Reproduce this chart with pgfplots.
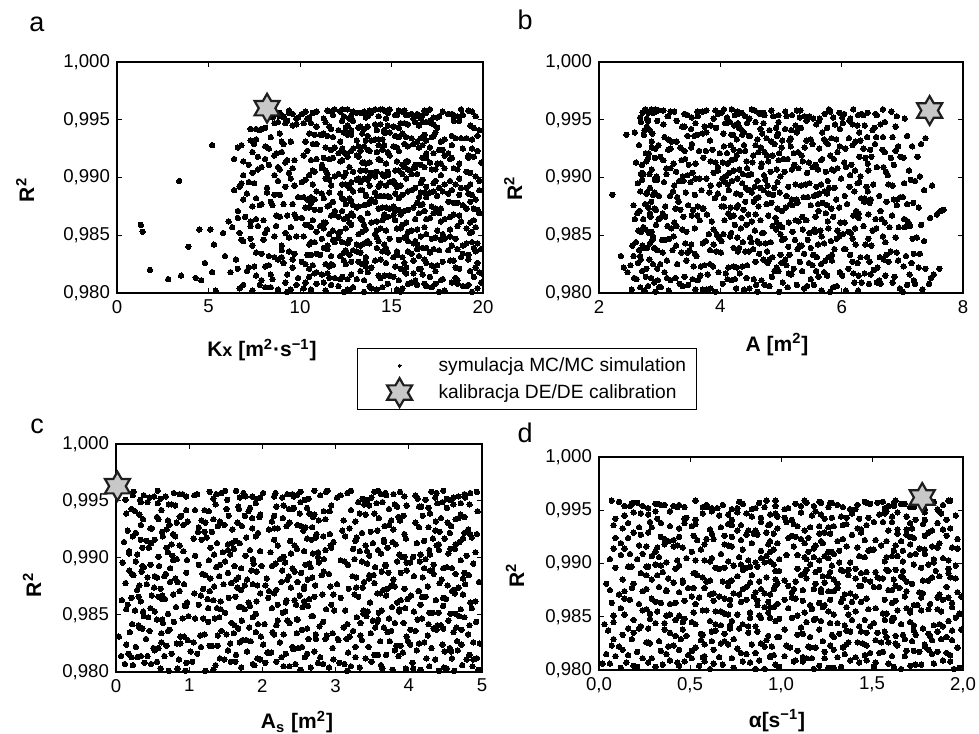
\documentclass[border=0pt]{standalone}
\usepackage{fontspec}
\setmainfont{Liberation Sans}
\usepackage{pgfplots}
\usepackage{pgfplotstable}
\pgfplotsset{compat=1.18}

\definecolor{starfill}{RGB}{200,200,200}
\definecolor{staredge}{RGB}{30,30,30}

% six-pointed star used for the DE calibration point
\pgfdeclareplotmark{hexstar}{%
  \pgfpathmoveto{\pgfpointpolar{90}{\pgfplotmarksize}}%
  \pgfpathlineto{\pgfpointpolar{120}{0.577\pgfplotmarksize}}%
  \pgfpathlineto{\pgfpointpolar{150}{\pgfplotmarksize}}%
  \pgfpathlineto{\pgfpointpolar{180}{0.577\pgfplotmarksize}}%
  \pgfpathlineto{\pgfpointpolar{210}{\pgfplotmarksize}}%
  \pgfpathlineto{\pgfpointpolar{240}{0.577\pgfplotmarksize}}%
  \pgfpathlineto{\pgfpointpolar{270}{\pgfplotmarksize}}%
  \pgfpathlineto{\pgfpointpolar{300}{0.577\pgfplotmarksize}}%
  \pgfpathlineto{\pgfpointpolar{330}{\pgfplotmarksize}}%
  \pgfpathlineto{\pgfpointpolar{0}{0.577\pgfplotmarksize}}%
  \pgfpathlineto{\pgfpointpolar{30}{\pgfplotmarksize}}%
  \pgfpathlineto{\pgfpointpolar{60}{0.577\pgfplotmarksize}}%
  \pgfpathclose
  \pgfusepathqfillstroke
}

\pgfplotsset{
  panel/.style={
    scale only axis, anchor=south west,
    ymin=0.98, ymax=1.0, ytick={0.980,0.985,0.990,0.995,1.000},
    scaled ticks=false, tick align=inside, major tick length=2.5pt,
    axis line style={line width=0.6pt},
    every tick/.append style={line width=0.5pt, black},
    tick label style={font=\fontsize{9.3}{11}\selectfont},
    /pgf/number format/assume math mode=true,
    yticklabel style={/pgf/number format/.cd, fixed, fixed zerofill, precision=3, use comma},
    label style={font=\bfseries\fontsize{10.5}{12}\selectfont},
    xlabel style={anchor=base},
    ylabel style={anchor=center},
    ylabel={R\textsuperscript{2}},
  },
  dots/.style={only marks, mark=*, mark size=1.35pt, black, mark options={line width=0pt}},
  calib/.style={only marks, mark=hexstar, mark size=7.2pt,
    mark options={fill=starfill, draw=staredge, line width=1.1pt}},
  dotimage/.style={legend image code/.code={%
    \path[draw=none, fill=none] (0pt,-6.75pt) rectangle (35.5pt,6.75pt);
    \draw[##1, mark size=0.75pt] plot coordinates {(16pt,0pt)};}},
  starimage/.style={legend image code/.code={%
    \path[draw=none, fill=none] (0pt,-6.75pt) rectangle (35.5pt,6.75pt);
    \begin{pgfinterruptboundingbox}\draw[##1] plot coordinates {(16pt,0pt)};\end{pgfinterruptboundingbox}}},
}

% Monte Carlo runs: K_x, A, A_s, alpha, R^2
\pgfplotstableread{
k a s al r
14.2 3.71 0.84 1.62 0.9803
9.8 5.26 3.12 0.27 0.9807
17.6 2.93 4.41 0.91 0.9801
11.3 6.84 1.57 1.38 0.9809
6.7 4.48 2.66 0.55 0.9804
19.1 5.92 0.23 1.84 0.9806
12.7 3.15 3.78 0.12 0.9802
15.9 7.21 2.04 1.07 0.9808
8.1 2.68 4.87 0.68 0.9805
13.5 4.97 1.22 1.95 0.9801
18.3 6.33 3.49 0.39 0.9809
10.6 3.59 0.61 1.51 0.9803
16.4 5.54 2.83 0.83 0.9807
7.4 6.07 4.16 1.26 0.9802
12.1 2.81 1.89 0.06 0.9806
19.7 4.26 3.33 1.71 0.9804
14.8 7.44 0.39 0.47 0.9808
9.3 3.92 4.62 1.18 0.9801
17.2 5.11 2.37 0.97 0.9805
9.2 6.58 1.04 1.89 0.9809
15.3 2.54 3.96 0.31 0.9803
7.8 4.73 0.12 1.43 0.9807
5.4 5.67 2.52 0.74 0.9802
18.9 3.38 4.73 1.59 0.9806
10.2 6.96 1.71 0.19 0.9804
16.8 4.04 3.05 1.12 0.9808
12.4 5.81 0.95 0.61 0.9801
14.5 3.02 4.28 1.77 0.9805
19.9 6.21 2.19 0.88 0.9809
8.8 4.39 3.64 1.33 0.9803
11.7 7.08 0.48 0.43 0.9807
17.9 2.75 4.95 1.98 0.9802
13.8 5.43 1.36 0.02 0.9806
15.6 3.84 2.91 1.21 0.9804
10.9 6.45 4.05 0.79 0.9808
19.4 4.61 0.72 1.66 0.9801
12.9 2.99 3.21 0.35 0.9805
16.1 5.03 1.63 1.47 0.9809
9.5 7.33 4.52 0.99 0.9803
6.9 3.47 2.45 0.15 0.9807
2.8 4.12 1.93 0.57 0.9812
3.5 5.76 3.58 1.35 0.9815
4.3 3.26 0.29 1.02 0.9813
4.6 6.62 4.36 0.24 0.9811
5.2 2.47 2.71 1.73 0.9818
15.1 4.85 0.66 0.49 0.9814
11.5 6.19 3.92 1.86 0.9817
18.6 3.63 1.48 0.73 0.9811
13.3 5.35 4.67 1.29 0.9819
9.9 2.86 2.26 0.09 0.9813
16.7 7.12 0.17 1.54 0.9816
12.2 4.55 3.41 0.94 0.9812
19.8 3.08 1.79 1.69 0.9818
14.6 6.72 4.83 0.37 0.9815
7.9 4.19 2.97 1.14 0.9811
17.4 5.58 0.53 0.63 0.9819
10.5 3.41 3.86 1.93 0.9814
15.8 6.38 2.12 0.21 0.9817
13.1 2.62 4.24 1.41 0.9812
8.4 5.17 1.11 0.86 0.9816
11.9 7.47 2.58 1.61 0.9813
6.2 3.97 4.49 0.51 0.9818
16.3 4.68 0.86 1.24 0.9811
14.3 6.01 3.69 0.04 0.9815
19.3 2.71 1.53 1.81 0.9819
12.6 5.49 4.93 0.66 0.9812
9.3 3.79 2.32 1.49 0.9816
17.1 6.87 0.34 0.96 0.9814
10.8 4.32 3.17 1.76 0.9817
15.4 3.18 1.97 0.29 0.9811
13.7 5.97 4.58 1.09 0.9818
18.5 2.58 2.79 0.58 0.9813
11.2 7.52 0.76 1.91 0.9816
7.1 4.89 4.11 0.44 0.9819
8.5 3.54 1.42 1.31 0.9812
14.9 6.28 3.53 0.81 0.9815
19.9 4.09 2.07 1.56 0.9817
12.3 5.62 0.07 0.16 0.9814
17.7 2.97 4.79 1.17 0.9811
1.8 6.53 2.42 0.76 0.9820
13.6 3.88 1.28 1.64 0.9823
10.1 5.31 3.74 0.33 0.9827
16.6 2.78 0.58 1.05 0.9821
19.2 6.69 2.86 1.88 0.9829
11.8 4.44 4.46 0.71 0.9824
14.7 7.15 1.69 1.37 0.9826
7.2 2.41 3.27 0.11 0.9822
18.2 5.84 0.98 1.52 0.9828
12.5 2.89 4.14 0.89 0.9825
15.5 6.11 2.49 1.97 0.9821
9.6 4.71 0.41 0.45 0.9829
17.3 3.56 3.89 1.27 0.9823
13.2 6.77 1.84 0.62 0.9827
10.7 5.09 4.72 1.79 0.9824
16.9 2.64 2.24 0.26 0.9826
19.6 4.27 0.27 1.15 0.9822
14.1 5.73 3.36 0.92 0.9828
11.4 3.01 1.56 1.45 0.9825
18.7 7.38 4.31 0.53 0.9821
6.5 4.81 2.63 1.68 0.9829
15.2 3.68 0.69 0.07 0.9823
12.8 6.46 3.99 1.23 0.9827
17.5 2.52 2.01 0.84 0.9824
9.1 5.46 4.88 1.59 0.9826
13.9 4.13 1.16 0.38 0.9822
16.2 6.93 3.04 1.94 0.9828
10.3 3.29 0.83 0.67 0.9825
6.6 5.21 4.56 1.34 0.9821
14.4 2.83 2.73 0.18 0.9829
11.6 7.02 1.31 1.03 0.9823
17.8 4.58 3.61 1.72 0.9827
8.3 3.74 0.14 0.58 0.9824
15.7 6.26 4.21 1.42 0.9826
9.6 4.93 2.41 0.95 0.9822
18.4 3.12 1.73 1.83 0.9828
13.4 5.66 4.97 0.28 0.9825
16.5 7.61 0.51 1.19 0.9821
8.8 2.69 3.15 0.74 0.9829
4.8 5.01 1.06 1.55 0.9826
7.5 4.36 3.83 0.41 0.9823
11.1 6.14 2.16 1.28 0.9833
9.0 3.49 4.38 0.64 0.9837
13.6 5.78 0.93 1.91 0.9831
19.5 2.91 3.54 0.22 0.9839
9.7 4.64 1.61 1.12 0.9834
15.9 6.81 4.09 0.87 0.9836
12.2 2.36 2.88 1.63 0.9832
16.4 5.27 0.36 0.36 0.9838
7.6 4.01 3.71 1.47 0.9835
18.8 6.42 1.98 0.99 0.9831
14.2 2.74 4.65 1.78 0.9839
10.4 5.53 2.29 0.13 0.9833
17.6 3.83 0.73 1.36 0.9837
7.9 7.19 3.48 0.69 0.9834
15.3 4.47 1.44 1.86 0.9836
11.7 2.57 4.26 0.48 0.9832
19.9 5.88 2.61 1.21 0.9838
14.8 3.36 0.19 0.82 0.9835
8.6 6.63 3.97 1.58 0.9831
16.7 4.22 1.82 0.27 0.9839
12.7 5.14 4.81 1.09 0.9833
18.1 2.96 2.54 1.73 0.9837
10.9 7.29 0.62 0.56 0.9834
14.5 4.77 3.24 1.44 0.9836
5.9 3.61 1.39 0.93 0.9832
17.3 6.04 4.47 1.99 0.9838
13.3 3.05 2.14 0.39 0.9835
15.6 5.59 0.88 1.16 0.9831
11.3 4.31 3.66 0.77 0.9839
19.2 6.74 1.21 1.67 0.9833
12.9 2.66 4.02 0.05 0.9837
16.1 5.38 2.96 1.32 0.9834
9.4 3.93 0.46 0.62 0.9836
8.3 7.06 3.34 1.82 0.9832
18.6 4.54 1.67 0.46 0.9838
3.9 5.12 2.78 1.11 0.9840
12.4 3.46 4.61 1.53 0.9835
15.1 6.31 0.04 0.98 0.9831
16.9 2.79 3.11 0.16 0.9839
10.6 4.99 1.51 1.74 0.9833
13.8 5.71 3.93 0.53 0.9843
17.2 3.16 1.19 1.39 0.9847
7.4 6.49 4.39 0.86 0.9841
15.8 4.16 2.69 1.96 0.9849
19.4 2.61 0.79 0.31 0.9844
8.0 5.44 3.58 1.22 0.9846
14.6 3.89 1.94 0.72 0.9842
12.1 7.24 4.76 1.61 0.9848
16.3 4.61 2.34 0.08 0.9845
18.3 3.27 0.31 1.49 0.9841
10.2 5.96 3.42 0.94 0.9849
13.5 2.84 1.58 1.87 0.9843
17.9 6.18 4.18 0.42 0.9847
11.9 4.37 2.83 1.27 0.9844
15.4 5.23 0.56 0.61 0.9846
5.3 3.52 3.16 1.35 0.9842
9.4 6.89 1.87 0.99 0.9848
14.3 4.02 4.54 1.71 0.9845
9.0 2.72 2.19 0.23 0.9841
16.6 5.67 0.99 1.06 0.9849
12.6 3.71 3.81 0.79 0.9843
18.5 7.17 1.35 1.57 0.9847
10.8 4.83 4.92 0.36 0.9844
6.8 3.09 2.47 1.92 0.9846
13.1 6.39 0.22 0.67 0.9842
17.4 4.28 3.29 1.19 0.9848
6.9 5.82 1.72 0.51 0.9845
11.5 2.55 4.44 1.43 0.9841
8.6 6.68 2.67 0.89 0.9849
19.7 3.42 0.64 1.66 0.9843
14.9 5.06 3.73 0.19 0.9847
12.3 4.51 1.26 1.31 0.9844
17.7 2.88 4.12 0.73 0.9846
10.5 6.23 2.03 1.84 0.9842
15.7 3.97 0.44 0.47 0.9848
13.7 7.36 3.51 1.14 0.9845
18.9 5.31 1.62 0.82 0.9841
9.8 3.23 4.69 1.62 0.9849
16.2 4.74 2.37 0.03 0.9843
11.2 5.92 0.91 1.46 0.9847
1.3 4.43 2.94 0.96 0.9859
1.4 6.11 0.37 1.58 0.9853
4.5 3.37 3.87 0.32 0.9855
5.1 5.55 1.43 1.26 0.9855
5.8 2.82 4.33 0.71 0.9852
6.3 6.94 2.55 1.81 0.9857
14.1 4.05 0.71 0.44 0.9851
17.5 5.65 3.63 1.13 0.9854
7.7 3.13 1.83 1.69 0.9858
15.3 6.57 4.86 0.57 0.9856
19.3 4.69 2.28 1.37 0.9852
10.3 2.94 0.16 0.91 0.9859
13.4 5.19 3.44 1.98 0.9853
16.8 7.04 1.68 0.26 0.9857
11.6 3.81 4.57 1.09 0.9851
18.2 4.92 2.87 0.64 0.9855
8.7 6.36 0.94 1.52 0.9858
14.7 2.65 3.13 0.83 0.9854
12.5 5.78 1.38 1.77 0.9856
9.2 4.18 4.28 0.14 0.9852
15.6 7.31 2.21 1.23 0.9859
10.9 3.44 0.53 0.69 0.9853
19.6 5.02 3.77 1.48 0.9857
13.2 6.02 1.91 0.37 0.9851
16.4 2.77 4.71 1.88 0.9855
7.3 4.86 2.62 1.04 0.9858
11.8 6.51 0.26 0.52 0.9854
14.4 3.58 3.95 1.64 0.9856
6.7 5.47 1.49 0.76 0.9852
12.8 4.24 4.16 1.94 0.9859
15.9 2.69 2.31 0.28 0.9853
9.5 6.79 0.82 1.17 0.9857
17.8 3.94 3.38 0.88 0.9851
13.6 5.36 1.76 1.41 0.9855
11.1 7.13 4.47 0.12 0.9858
16.1 4.57 2.98 1.71 0.9854
19.1 3.19 0.47 0.59 0.9856
8.1 6.15 3.59 1.29 0.9852
10.4 4.97 1.13 0.94 0.9859
12.2 2.87 4.07 1.56 0.9853
15.2 5.42 2.44 0.34 0.9863
18.7 3.53 0.63 1.08 0.9867
12.7 6.71 3.84 1.75 0.9861
16.5 4.13 1.97 0.66 0.9869
7.6 2.59 4.51 1.33 0.9864
14.8 5.86 2.71 0.17 0.9866
6.1 4.52 0.34 0.98 0.9862
9.7 7.57 3.26 1.92 0.9868
17.1 3.01 1.54 0.47 0.9865
11.4 5.13 4.84 1.24 0.9861
19.8 6.28 2.16 0.85 0.9869
8.0 3.66 0.08 1.61 0.9863
12.9 4.79 3.69 0.29 0.9867
16.9 6.56 1.25 1.39 0.9864
8.9 2.85 4.23 0.81 0.9866
14.2 5.29 2.57 1.82 0.9862
18.4 4.46 0.78 0.55 0.9868
6.6 7.46 3.07 1.12 0.9865
13.9 3.24 1.81 0.72 0.9861
17.6 5.74 4.63 1.68 0.9869
10.7 4.07 2.33 0.07 0.9863
8.7 6.83 0.49 1.47 0.9867
12.4 2.73 3.98 0.93 0.9864
7.0 5.35 1.63 1.27 0.9866
7.3 3.86 4.91 0.39 0.9862
15.5 6.44 2.82 1.86 0.9868
13.3 4.35 0.21 0.63 0.9865
11.3 5.98 3.47 1.16 0.9861
17.3 3.05 1.07 1.99 0.9869
14.5 4.66 4.37 0.42 0.9863
9.3 6.19 2.51 1.34 0.9867
16.3 2.98 0.67 0.78 0.9864
12.1 5.57 3.31 1.57 0.9866
18.8 7.09 1.92 0.22 0.9862
14.6 3.78 4.74 1.06 0.9868
10.1 4.91 2.08 0.87 0.9865
15.8 6.05 0.97 1.73 0.9861
13.7 2.63 3.57 0.51 0.9869
19.5 5.24 1.33 1.21 0.9863
11.7 4.22 4.03 0.69 0.9867
17.9 7.03 2.64 1.44 0.9864
12.6 3.39 0.58 1.89 0.9866
14.3 5.83 3.18 0.44 0.9873
16.7 2.76 1.47 1.31 0.9877
11.9 6.64 4.59 0.77 0.9871
18.1 4.41 2.26 1.63 0.9879
13.1 5.08 0.52 0.24 0.9874
7.8 3.47 3.76 1.18 0.9876
15.4 7.68 1.71 0.91 0.9872
10.6 4.84 4.42 1.54 0.9878
17.2 3.09 2.93 0.06 0.9875
12.3 6.24 0.87 1.35 0.9871
19.3 4.55 3.39 0.71 0.9879
14.9 2.91 1.19 1.97 0.9873
9.6 5.61 4.77 0.49 0.9877
16.2 4.17 2.39 1.26 0.9874
13.5 6.91 0.32 0.96 0.9876
11.1 3.55 3.65 1.78 0.9872
18.6 5.27 1.58 0.33 0.9878
15.1 4.63 4.26 1.12 0.9875
6.6 2.67 2.09 0.61 0.9871
12.8 6.37 0.74 1.43 0.9879
17.4 3.72 3.94 0.86 0.9873
9.1 5.15 1.87 1.65 0.9877
10.3 7.27 4.68 0.14 0.9874
16.6 4.29 2.72 1.07 0.9876
19.7 2.94 0.29 0.74 0.9872
13.8 5.69 3.53 1.51 0.9878
11.5 4.02 1.34 0.37 0.9875
15.7 7.63 4.14 1.87 0.9871
8.4 3.31 2.48 0.97 0.9879
17.7 4.94 0.61 1.22 0.9873
12.5 6.09 3.02 0.58 0.9877
14.7 2.81 1.66 1.69 0.9874
18.9 5.49 4.53 0.26 0.9876
10.8 4.38 2.19 1.38 0.9872
16.4 7.18 0.13 0.81 0.9878
13.2 3.63 3.81 1.59 0.9875
15.2 5.02 1.28 0.11 0.9871
11.8 6.74 4.96 1.04 0.9879
19.1 3.26 2.57 1.76 0.9873
7.9 4.76 0.93 0.52 0.9877
14.5 5.96 3.37 1.29 0.9874
8.5 2.57 1.76 0.89 0.9876
13.6 2.22 2.81 1.46 0.9885
10.2 5.37 0.43 0.68 0.9883
16.8 3.82 3.72 1.83 0.9887
12.4 6.86 1.64 0.19 0.9881
18.3 4.49 4.29 1.11 0.9889
14.8 3.17 2.36 0.73 0.9884
7.1 5.76 0.68 1.56 0.9886
11.3 4.06 3.46 0.41 0.9882
15.9 6.43 1.92 1.26 0.9888
19.4 2.89 4.82 0.97 0.9885
6.9 5.18 2.62 1.72 0.9881
16.1 4.71 0.18 0.32 0.9889
9.9 7.01 3.28 1.08 0.9883
14.1 3.43 1.53 1.93 0.9887
17.5 5.54 4.07 0.61 0.9884
12.2 4.26 2.91 1.41 0.9886
15.4 6.32 0.81 0.83 0.9882
10.9 2.68 3.63 1.66 0.9888
18.7 4.87 1.22 0.13 0.9885
13.9 5.91 4.45 1.19 0.9881
6.4 3.69 2.27 0.54 0.9889
16.5 6.97 0.56 1.49 0.9883
11.6 4.52 3.89 0.92 0.9887
14.4 2.99 1.41 1.78 0.9884
19.2 5.63 4.64 0.38 0.9886
12.7 3.91 2.06 1.24 0.9882
17.8 6.21 0.35 0.76 0.9888
8.9 4.33 3.52 1.62 0.9885
10.4 5.26 1.79 0.04 0.9881
13.3 7.36 4.32 1.37 0.9889
16.9 3.29 2.68 0.88 0.9883
8.2 4.98 0.96 1.53 0.9887
14.6 6.62 3.23 0.46 0.9884
11.2 2.78 1.18 1.14 0.9886
7.6 4.59 4.74 0.71 0.9882
12.9 5.72 2.44 1.87 0.9888
15.6 3.58 0.24 0.29 0.9885
19.6 6.48 3.79 1.31 0.9881
13.4 4.14 1.85 0.84 0.9889
10.6 5.44 4.19 1.69 0.9883
17.1 2.92 2.53 0.57 0.9887
14.2 6.05 0.66 1.02 0.9884
3.4 4.61 3.36 0.83 0.9897
12.6 3.24 1.62 1.59 0.9893
16.3 5.79 4.47 0.23 0.9891
9.5 4.28 2.84 1.16 0.9899
18.5 6.77 0.47 0.79 0.9894
10.1 3.51 3.97 1.77 0.9896
15.3 5.12 1.37 0.35 0.9892
13.1 7.14 4.71 1.28 0.9898
6.8 4.36 2.18 0.66 0.9895
17.6 2.84 0.74 1.44 0.9891
11.4 5.99 3.26 0.96 0.9899
14.7 4.78 1.99 1.85 0.9893
19.8 3.39 4.15 0.16 0.9897
12.3 6.52 2.59 1.21 0.9894
7.2 4.08 0.09 0.69 0.9896
9.2 5.58 3.54 1.52 0.9892
13.7 2.71 1.27 0.44 0.9898
17.3 6.26 4.88 1.09 0.9895
8.2 4.66 2.41 1.92 0.9891
15.8 3.77 0.83 0.31 0.9899
13.8 5.33 3.68 1.34 0.9893
18.2 7.21 1.49 0.87 0.9897
10.7 3.98 4.34 1.63 0.9894
14.9 4.94 2.77 0.09 0.9896
6.7 6.13 0.38 1.19 0.9892
16.7 2.96 3.07 0.74 0.9898
7.5 5.47 1.88 1.41 0.9895
19.1 4.42 4.59 0.52 0.9891
13.5 3.66 2.24 1.81 0.9899
11.7 6.84 0.59 0.99 0.9893
15.1 4.19 3.84 0.27 0.9897
17.9 5.66 1.13 1.58 0.9894
12.8 3.07 4.02 0.64 0.9896
14.3 6.41 2.66 1.27 0.9892
10.3 4.74 0.97 1.96 0.9898
16.6 2.64 3.43 0.42 0.9895
18.8 5.88 1.71 1.13 0.9891
13.2 4.03 4.23 0.78 0.9899
15.5 7.49 2.13 1.67 0.9893
8.8 3.32 0.27 0.18 0.9897
12.5 5.24 3.17 1.33 0.9894
14.5 4.51 1.56 0.58 0.9903
17.4 2.87 4.41 1.24 0.9907
11.9 6.31 2.76 0.91 0.9901
15.7 3.96 0.45 1.74 0.9909
19.3 5.43 3.62 0.21 0.9904
13.3 4.22 1.97 1.46 0.9906
6.9 6.76 4.79 0.71 0.9902
16.2 3.18 2.47 1.09 0.9908
10.8 5.06 0.71 1.89 0.9905
14.1 7.29 3.91 0.37 0.9901
8.8 4.67 1.29 1.29 0.9909
12.1 2.73 4.16 0.82 0.9903
15.9 5.84 2.86 1.61 0.9907
9.4 4.15 0.18 0.06 0.9904
13.6 6.44 3.33 1.18 0.9906
17.7 3.46 1.77 0.94 0.9902
11.2 5.29 4.57 1.71 0.9908
14.8 4.83 2.11 0.48 0.9905
19.6 2.95 0.58 1.38 0.9901
12.7 6.07 3.71 0.67 0.9909
16.4 4.37 1.34 1.92 0.9903
7.7 5.61 4.28 0.29 0.9907
7.4 3.54 2.69 1.14 0.9904
15.2 7.11 0.92 0.77 0.9906
10.5 4.72 3.46 1.57 0.9902
18.4 3.11 1.61 0.12 0.9908
14.2 5.74 4.91 1.26 0.9905
12.4 4.09 2.29 0.86 0.9901
16.8 6.58 0.36 1.79 0.9909
11.5 2.69 3.87 0.53 0.9903
17.2 5.18 1.83 1.43 0.9907
13.9 3.89 4.54 0.99 0.9904
15.4 6.22 2.57 0.33 0.9906
8.6 4.46 0.77 1.67 0.9902
9.6 5.93 3.24 1.03 0.9908
12.9 3.27 1.46 0.62 0.9905
14.6 4.99 4.06 1.84 0.9901
7.9 6.69 2.94 0.17 0.9909
16.1 2.83 0.29 1.21 0.9903
18.6 4.31 3.58 0.92 0.9907
13.4 5.46 1.69 1.51 0.9913
11.3 3.72 4.33 0.43 0.9917
15.6 6.16 2.21 1.15 0.9911
17.9 4.54 0.64 0.84 0.9919
12.2 2.78 3.78 1.76 0.9914
6.4 5.87 1.17 0.26 0.9916
14.7 4.12 4.64 1.32 0.9912
19.5 6.97 2.73 0.69 0.9918
10.6 3.36 0.42 1.94 0.9915
8.3 5.22 3.41 0.51 0.9911
13.1 4.86 1.91 1.23 0.9919
17.1 2.61 4.11 0.96 0.9913
11.8 6.39 2.61 1.63 0.9917
6.9 3.84 0.11 0.14 0.9914
8.1 5.04 3.66 1.07 0.9916
18.7 4.68 1.53 1.48 0.9912
12.6 7.25 4.86 0.58 0.9918
14.4 3.06 2.38 1.86 0.9915
16.6 5.57 0.87 0.31 0.9911
10.2 4.27 3.13 1.13 0.9919
13.8 6.04 1.38 0.79 0.9913
19.2 2.92 4.49 1.55 0.9917
15.3 4.79 2.97 0.08 0.9914
11.6 5.68 0.53 1.36 0.9916
17.5 3.59 3.82 0.89 0.9912
13.2 6.49 1.78 1.71 0.9918
9.7 4.18 4.21 0.46 0.9915
16.3 2.71 2.44 1.28 0.9911
14.9 5.34 0.23 0.98 0.9919
9.2 3.92 3.51 1.79 0.9913
18.3 6.81 1.06 0.22 0.9917
15.8 4.43 4.69 1.18 0.9914
10.9 5.11 2.16 0.73 0.9916
13.6 3.23 0.76 1.62 0.9912
7.7 6.29 3.29 0.36 0.9918
12.3 4.96 1.63 1.42 0.9915
7.2 3.48 4.38 0.94 0.9911
8.6 5.81 2.83 1.87 0.9919
19.9 4.04 0.48 0.56 0.9913
16.9 7.02 3.96 1.19 0.9917
5.2 4.58 2.53 0.62 0.9928
12.8 3.65 1.21 1.34 0.9923
15.1 5.97 4.27 0.81 0.9927
17.3 2.82 2.92 1.66 0.9921
7.5 4.89 0.34 0.27 0.9929
13.7 6.67 3.57 1.04 0.9924
16.5 3.34 1.86 1.91 0.9926
7.4 5.28 4.76 0.41 0.9922
14.3 4.17 2.33 1.27 0.9928
18.9 6.06 0.69 0.73 0.9925
12.1 2.77 3.94 1.58 0.9921
15.7 5.52 1.48 0.19 0.9929
10.4 4.41 4.42 1.11 0.9923
13.5 7.16 2.68 0.87 0.9927
17.8 3.87 0.16 1.73 0.9924
11.9 5.01 3.19 0.52 0.9926
9.0 4.63 1.94 1.46 0.9922
14.6 2.66 4.58 0.96 0.9928
19.4 6.36 2.09 0.34 0.9925
12.5 3.99 0.78 1.22 0.9921
9.1 5.77 3.73 1.81 0.9929
15.4 4.32 1.31 0.63 0.9923
8.1 6.93 4.14 1.39 0.9927
17.6 3.14 2.56 0.09 0.9924
11.4 5.39 0.49 1.06 0.9926
14.2 4.73 3.36 0.78 0.9922
16.7 6.18 1.72 1.64 0.9928
12.9 2.93 4.81 0.44 0.9925
18.1 4.97 2.74 1.31 0.9921
10.7 6.55 0.92 0.92 0.9929
13.8 3.76 3.48 1.97 0.9923
15.9 5.16 1.13 0.23 0.9927
11.7 4.22 4.36 1.15 0.9924
6.6 3.52 2.21 0.69 0.9926
14.8 6.71 0.27 1.52 0.9922
6.8 2.98 3.67 0.85 0.9928
12.3 5.63 1.59 1.71 0.9925
8.7 4.11 4.93 0.38 0.9921
16.2 7.31 2.48 1.24 0.9929
13.3 3.41 0.63 0.59 0.9923
14.1 5.91 3.11 1.42 0.9933
11.2 4.36 1.76 0.71 0.9937
16.4 2.87 4.53 1.83 0.9931
12.7 6.29 2.64 0.28 0.9939
18.5 4.76 0.37 1.16 0.9934
15.2 3.57 3.86 0.93 0.9936
7.3 5.42 1.42 1.69 0.9932
13.4 4.05 4.71 0.47 0.9938
17.2 6.84 2.28 1.29 0.9935
10.3 3.19 0.83 0.82 0.9931
14.9 5.26 3.53 1.61 0.9939
7.6 4.61 1.17 0.13 0.9933
16.8 2.74 4.19 1.07 0.9937
19.1 5.83 2.86 0.67 0.9934
11.5 7.08 0.56 1.47 0.9936
13.9 3.83 3.27 1.89 0.9932
15.6 4.95 1.97 0.34 0.9938
8.4 6.42 4.44 1.21 0.9935
17.7 3.28 2.37 0.76 0.9931
12.4 5.68 0.14 1.56 0.9939
14.5 4.27 3.76 0.98 0.9933
10.8 2.45 1.54 1.78 0.9937
16.1 6.12 4.64 0.22 0.9934
18.3 4.47 2.69 1.34 0.9936
13.1 5.14 0.98 0.61 0.9932
8.9 3.71 3.41 1.71 0.9938
11.8 6.57 1.86 0.39 0.9935
9.0 4.84 4.09 1.13 0.9931
17.4 2.59 2.51 0.89 0.9939
14.3 5.49 0.71 1.93 0.9933
12.6 4.18 3.93 0.53 0.9937
16.6 7.38 1.33 1.26 0.9934
19.7 3.46 4.76 0.78 0.9936
13.6 5.02 2.13 1.64 0.9932
10.5 4.69 0.32 0.16 0.9938
15.8 3.08 3.59 1.09 0.9935
12.2 6.23 1.66 0.86 0.9931
14.7 4.39 4.29 1.51 0.9939
17.9 5.71 2.77 0.44 0.9933
11.1 3.62 0.89 1.36 0.9937
13.2 5.33 2.42 1.02 0.9943
15.5 4.08 4.61 0.57 0.9947
12.8 6.51 1.27 1.79 0.9941
17.1 2.81 3.31 0.31 0.9949
7.6 4.66 0.62 1.24 0.9942
14.4 5.89 3.97 0.94 0.9946
10.9 3.37 1.83 1.61 0.9944
16.3 6.71 4.39 0.19 0.9948
19.3 4.23 2.19 1.17 0.9945
12.1 5.17 0.26 0.73 0.9941
9.3 2.96 3.64 1.87 0.9949
8.1 4.92 1.51 0.48 0.9943
8.6 6.02 4.83 1.39 0.9947
11.6 3.74 2.61 0.84 0.9944
15.9 5.58 0.81 1.54 0.9946
13.5 4.34 3.21 0.09 0.9942
16.9 2.69 1.91 1.11 0.9948
9.6 6.38 4.17 0.66 0.9945
14.6 4.81 2.84 1.74 0.9941
12.3 3.28 0.43 0.39 0.9949
17.5 5.76 3.73 1.28 0.9943
10.2 4.44 1.36 0.97 0.9947
15.1 6.89 4.52 1.69 0.9944
9.8 3.06 2.29 0.27 0.9946
7.3 5.07 0.96 1.43 0.9942
11.4 4.16 3.56 0.76 0.9948
16.5 6.26 1.67 1.96 0.9945
14.2 2.84 4.94 0.53 0.9941
18.7 5.42 2.52 1.19 0.9949
12.5 3.93 0.21 0.89 0.9943
15.7 4.71 3.39 1.57 0.9947
7.9 5.97 1.08 0.32 0.9942
13.7 3.41 4.27 1.33 0.9944
17.3 6.64 2.94 0.71 0.9946
8.8 4.58 0.57 1.64 0.9948
14.8 5.24 3.84 0.14 0.9945
7.8 2.75 1.81 1.06 0.9941
12.9 6.13 4.46 0.62 0.9949
19.5 4.31 2.36 1.48 0.9943
10.6 3.59 0.72 1.88 0.9947
14.3 4.87 3.02 0.43 0.9953
11.7 3.18 1.44 1.22 0.9957
16.2 5.64 4.56 0.84 0.9951
12.6 2.93 2.71 1.63 0.9959
18.4 6.27 0.52 0.17 0.9954
9.4 4.02 3.79 1.08 0.9956
9.1 5.31 1.92 0.65 0.9952
13.8 3.77 4.31 1.84 0.9958
8.7 6.56 2.47 0.36 0.9955
10.4 4.48 0.33 1.41 0.9951
14.9 2.76 3.58 0.92 0.9959
19.6 5.09 1.69 1.71 0.9953
12.2 6.82 4.84 0.21 0.9957
16.7 3.46 2.16 1.18 0.9954
13.3 4.63 0.87 0.79 0.9956
9.9 5.86 3.37 1.57 0.9952
15.4 3.06 1.28 0.11 0.9958
18.1 4.29 4.09 1.31 0.9955
9.8 6.14 2.58 0.73 0.9951
14.1 2.86 0.09 1.92 0.9959
17.6 5.47 3.49 0.47 0.9953
12.9 3.62 1.74 1.14 0.9957
15.8 4.96 4.68 0.97 0.9954
10.7 6.43 2.34 1.68 0.9956
13.6 4.11 0.61 0.27 0.9952
19.2 2.98 3.88 1.46 0.9958
16.4 5.72 1.07 0.68 0.9955
11.3 3.89 4.23 1.79 0.9951
14.5 6.68 2.89 0.53 0.9959
12.4 4.41 0.46 1.26 0.9953
17.8 3.24 3.16 0.88 0.9957
15.2 5.18 1.86 1.59 0.9954
8.9 2.72 4.76 0.31 0.9956
8.5 6.01 2.63 1.04 0.9952
16.8 4.57 0.24 1.76 0.9958
10.1 3.41 3.69 0.59 0.9955
14.7 5.53 1.52 1.38 0.9951
18.8 4.19 4.47 0.07 0.9959
9.1 6.91 2.27 0.91 0.9953
15.6 2.94 0.79 1.53 0.9957
11.8 4.73 3.94 0.24 0.9954
13.9 5.96 1.11 1.66 0.9956
17.3 3.53 4.12 0.76 0.9952
9.4 4.84 2.52 1.21 0.9958
16.1 6.33 0.38 0.44 0.9955
12.7 2.79 3.43 1.86 0.9951
14.4 4.06 1.64 0.97 0.9959
8.9 5.39 4.61 1.34 0.9953
10.9 3.71 2.01 0.19 0.9957
15.3 6.58 0.68 1.11 0.9954
13.4 4.35 3.62 1.49 0.9956
17.5 2.68 1.33 0.62 0.9952
11.5 5.26 4.93 1.78 0.9958
9.6 3.96 2.79 0.34 0.9955
16.6 7.04 0.13 1.02 0.9951
12.3 4.52 3.21 1.93 0.9959
18.6 3.13 1.97 0.57 0.9953
10.3 5.81 4.38 1.27 0.9957
15.9 4.24 2.43 0.14 0.9954
13.1 2.89 0.91 1.62 0.9956
16.9 4.81 3.62 0.63 0.9806
11.4 6.27 1.33 1.29 0.9802
18.6 3.33 2.76 1.93 0.9808
13.9 5.38 4.48 0.44 0.9804
10.3 2.91 0.56 1.08 0.9809
15.5 7.01 3.16 0.86 0.9801
19.2 4.59 1.87 1.52 0.9807
12.6 3.78 4.06 0.21 0.9803
8.4 5.86 2.29 1.74 0.9805
17.4 6.64 0.96 0.58 0.9808
14.4 3.12 3.27 1.68 0.9813
10.9 5.71 1.02 0.34 0.9818
17.8 4.24 4.59 1.12 0.9812
12.8 6.48 2.61 0.78 0.9816
19.5 2.77 0.43 1.46 0.9814
15.7 4.96 3.81 0.13 0.9819
7.6 3.67 1.64 1.83 0.9815
13.5 7.19 4.88 0.51 0.9811
16.2 5.13 2.08 1.24 0.9817
11.6 4.43 0.21 0.94 0.9813
17.2 5.52 4.02 1.36 0.9824
12.4 3.44 1.78 0.56 0.9828
15.8 6.59 3.45 1.79 0.9822
19.7 4.78 0.62 0.27 0.9826
10.5 2.96 2.96 1.16 0.9821
13.6 6.18 4.66 0.69 0.9827
8.1 4.22 1.39 1.47 0.9823
16.8 5.07 3.03 0.08 0.9829
11.7 3.83 0.88 1.63 0.9825
18.5 7.27 2.54 0.91 0.9822
13.1 4.41 3.76 1.57 0.9836
16.5 2.68 1.15 0.42 0.9832
11.5 6.06 4.34 1.02 0.9838
18.9 3.58 2.47 1.81 0.9834
14.7 5.49 0.32 0.72 0.9839
9.0 4.86 3.19 1.29 0.9831
17.1 6.91 1.91 0.19 0.9835
12.5 3.21 4.72 1.94 0.9837
15.3 5.84 2.73 0.57 0.9833
19.6 4.29 0.71 1.38 0.9836
12.7 3.04 2.48 0.97 0.9846
16.4 5.61 4.27 1.73 0.9842
14.2 4.49 1.41 0.28 0.9848
10.6 6.72 3.57 1.51 0.9844
18.2 2.89 0.38 0.83 0.9849
13.3 5.34 4.83 1.89 0.9841
15.9 3.76 2.21 0.46 0.9845
7.3 6.44 1.08 1.18 0.9847
19.1 4.64 3.34 0.64 0.9843
11.8 5.02 0.63 1.61 0.9846
15.5 6.22 2.13 1.71 0.9856
12.1 4.71 4.41 0.39 0.9852
18.6 3.28 0.96 1.17 0.9858
14.2 5.93 3.38 0.93 0.9854
10.6 2.73 1.71 1.86 0.9857
16.9 4.99 4.64 0.08 0.9851
13.5 7.12 2.46 1.36 0.9859
8.2 3.89 0.14 0.67 0.9855
19.4 5.56 3.87 1.56 0.9853
11.3 4.34 1.26 0.24 0.9856
14.6 3.09 4.18 1.02 0.9866
17.7 5.77 1.43 0.53 0.9862
11.9 4.58 2.97 1.77 0.9868
16.3 6.66 0.63 0.31 0.9864
12.8 2.84 3.61 1.41 0.9869
19.3 4.93 2.32 0.87 0.9861
9.8 6.28 4.47 1.63 0.9865
15.1 3.62 1.16 0.14 0.9867
13.4 5.41 3.89 1.94 0.9863
18.2 4.17 0.31 0.72 0.9866
12.9 5.76 2.04 1.22 0.9876
15.9 3.34 4.61 0.63 0.9872
18.4 6.46 1.57 1.91 0.9878
10.5 4.27 3.28 0.37 0.9874
14.1 2.86 0.84 1.44 0.9879
16.8 5.62 4.13 0.94 0.9871
7.4 4.06 2.57 1.61 0.9875
13.7 7.08 0.42 0.18 0.9877
19.5 3.71 3.71 1.06 0.9873
11.6 5.19 1.93 0.79 0.9876
15.2 4.79 4.34 1.54 0.9886
12.3 6.38 1.29 0.46 0.9882
17.3 3.22 2.84 1.23 0.9888
13.6 5.09 0.53 1.81 0.9884
19.8 4.46 3.97 0.26 0.9889
10.8 6.92 2.34 0.98 0.9881
16.6 2.79 4.76 1.67 0.9887
14.9 4.63 1.67 0.59 0.9883
8.6 5.59 3.46 1.29 0.9885
18.1 3.96 0.22 1.96 0.9886
13.3 6.29 2.31 0.81 0.9896
16.9 4.57 4.52 1.47 0.9892
11.6 2.92 0.78 0.34 0.9898
15.2 5.41 3.68 1.14 0.9894
18.7 3.59 1.87 1.73 0.9899
12.7 4.89 4.21 0.53 0.9891
14.4 7.03 2.64 1.92 0.9895
9.7 3.84 0.36 0.97 0.9893
17.4 5.77 3.12 0.26 0.9897
19.3 4.12 1.42 1.37 0.9894
11.4 3.96 3.43 1.58 0.9906
14.8 6.14 1.08 0.61 0.9902
17.9 4.44 4.63 1.03 0.9908
12.5 2.71 2.39 1.84 0.9904
16.3 5.52 0.69 0.24 0.9909
13.8 3.38 3.94 1.32 0.9901
19.1 6.73 2.76 0.89 0.9905
8.9 4.93 1.53 1.64 0.9907
15.6 3.11 4.29 0.43 0.9903
10.7 5.87 0.18 1.13 0.9906
14.3 4.24 2.67 0.41 0.9916
17.7 6.43 4.41 1.67 0.9912
12.6 3.01 1.24 0.93 0.9918
15.9 5.36 3.66 1.97 0.9914
19.2 4.77 0.81 0.12 0.9919
11.2 6.86 2.93 1.26 0.9911
16.7 2.81 4.74 0.71 0.9917
13.5 4.53 1.58 1.49 0.9913
9.3 5.66 3.27 0.32 0.9915
18.2 3.42 0.34 1.83 0.9916
15.3 2.87 2.17 1.79 0.9926
12.4 5.93 4.56 0.54 0.9922
18.3 4.39 1.39 1.21 0.9928
14.5 6.47 3.09 0.16 0.9924
10.9 3.53 0.73 1.44 0.9929
16.9 5.21 4.84 0.94 0.9921
13.2 4.06 2.59 1.69 0.9927
19.7 6.89 1.12 0.36 0.9923
8.3 3.18 3.79 1.08 0.9925
17.1 4.67 0.47 1.91 0.9926
13.7 4.49 1.96 0.73 0.9936
16.9 6.31 4.37 1.44 0.9932
11.3 2.88 2.71 1.86 0.9938
18.8 5.16 0.58 0.29 0.9934
14.6 3.77 3.33 1.03 0.9939
9.5 5.74 1.22 1.59 0.9931
15.4 6.68 4.68 0.51 0.9935
12.8 4.21 2.16 0.94 0.9937
19.4 3.14 3.88 1.72 0.9933
17.3 4.93 0.87 0.08 0.9936
14.1 6.18 3.46 1.22 0.9946
11.7 3.52 1.21 0.47 0.9942
16.7 4.96 4.71 1.79 0.9948
13.3 2.79 2.43 0.98 0.9944
18.4 5.63 0.34 1.58 0.9949
9.2 4.29 3.81 0.23 0.9947
15.4 6.54 1.68 1.36 0.9943
12.6 3.84 4.14 0.66 0.9945
19.8 5.27 2.92 1.91 0.9941
17.2 4.11 0.76 0.81 0.9947
13.5 5.07 2.18 1.47 0.9957
16.5 3.63 4.36 0.59 0.9953
11.9 6.19 0.57 1.13 0.9959
18.3 4.66 3.07 1.89 0.9955
14.8 2.82 1.37 0.32 0.9956
10.5 5.44 4.52 0.86 0.9952
15.7 3.92 2.87 1.56 0.9958
12.8 6.36 0.96 0.41 0.9954
19.4 4.28 3.68 1.28 0.9957
17.1 5.79 1.49 0.92 0.9959
13.7 3.14 4.77 1.73 0.9953
16.9 4.71 2.41 0.18 0.9956
9.6 6.04 0.23 1.42 0.9955
14.6 5.32 3.53 0.77 0.9958
18.9 3.46 1.77 1.62 0.9954
}\mc

\begin{document}
\begin{tikzpicture}
\useasboundingbox (0,0) rectangle (489.5pt,366.5pt);

\node[anchor=base, font=\fontsize{13.5}{15}\selectfont] at (18.5pt,350.5pt) {a};
\node[anchor=base, font=\fontsize{13.5}{15}\selectfont] at (262.5pt,351.5pt) {b};
\node[anchor=base, font=\fontsize{13.5}{15}\selectfont] at (18.5pt,149.5pt) {c};
\node[anchor=base, font=\fontsize{13.5}{15}\selectfont] at (262.5pt,145pt) {d};

% a: K_x
\begin{axis}[panel, at={(58.5pt,220pt)}, width=183pt, height=115.5pt,
  xmin=0, xmax=20, xtick={0,5,10,15,20},
  xlabel={K{\fontsize{9}{10}\selectfont x} [m\textsuperscript{2}·s\textsuperscript{−1}]},
  xlabel style={at={(axis description cs:0.396,-0.277)}},
  ylabel style={at={(axis description cs:-0.251,0.446)}},
  legend style={at={(axis description cs:0.6557,-0.238)}, anchor=north west,
    draw=black, line width=0.6pt, font=\fontsize{9.6}{11}\selectfont,
    inner xsep=5pt, inner ysep=1.75pt, row sep=0pt,
    nodes={inner sep=0pt}, cells={anchor=west}},
]
\addplot[dots, dotimage] table[x=k, y=r] {\mc};
\addlegendentry{symulacja MC/MC simulation}
\addplot[calib, starimage] coordinates {(8.2,0.9960)};
\addlegendentry{kalibracja DE/DE calibration}
\end{axis}

% b: A
\begin{axis}[panel, at={(299.5pt,220pt)}, width=182pt, height=115.5pt,
  xmin=2, xmax=8, xtick={2,4,6,8},
  xlabel={A [m\textsuperscript{2}]},
  xlabel style={at={(axis description cs:0.489,-0.255)}},
  ylabel style={at={(axis description cs:-0.236,0.452)}},
]
\addplot[dots] table[x=a, y=r] {\mc};
\addplot[calib] coordinates {(7.45,0.9958)};
\end{axis}

% c: A_s
\begin{axis}[panel, at={(58pt,30.5pt)}, width=183pt, height=114pt,
  xmin=0, xmax=5, xtick={0,1,2,3,4,5},
  xlabel={A\textsubscript{s} [m\textsuperscript{2}]},
  xlabel style={at={(axis description cs:0.4945,-0.25)}},
  ylabel style={at={(axis description cs:-0.2295,0.3816)}},
]
\addplot[dots] table[x=s, y=r] {\mc};
\addplot[calib] coordinates {(0.02,0.9963)};
\end{axis}

% d: alpha
\begin{axis}[panel, at={(299.5pt,31.5pt)}, width=182pt, height=106.5pt,
  xmin=0, xmax=2, xtick={0,0.5,1,1.5,2},
  xticklabel style={/pgf/number format/.cd, fixed, fixed zerofill, precision=1, use comma},
  xlabel={α[s\textsuperscript{−1}]},
  xlabel style={at={(axis description cs:0.489,-0.272)}},
  ylabel style={at={(axis description cs:-0.231,0.446)}},
]
\addplot[dots] table[x=al, y=r] {\mc};
\addplot[calib] coordinates {(1.776,0.9962)};
\end{axis}
\end{tikzpicture}
\end{document}
